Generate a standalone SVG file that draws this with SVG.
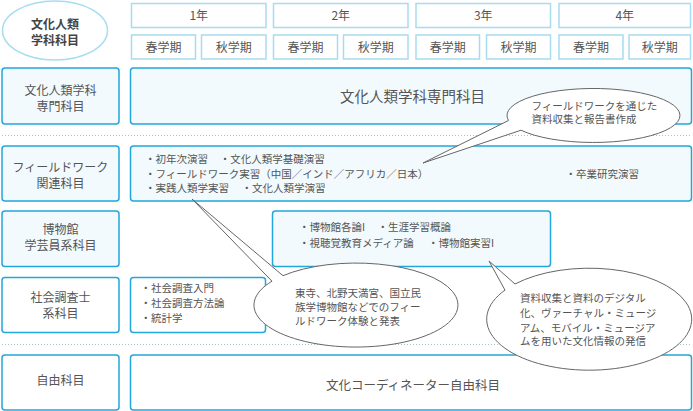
<svg xmlns="http://www.w3.org/2000/svg" width="693" height="411" viewBox="0 0 693 411">
<style>
text{font-family:"Noto Sans CJK JP","Noto Sans CJK SC",sans-serif;fill:#555}
.hd{fill:#fff;stroke:#a6dcf0;stroke-width:1.5}
.bx{fill:#f2fafd;stroke:#22a6db;stroke-width:1.5}
.wb{fill:#fff;stroke:#22a6db;stroke-width:1.5}
.ht{font-size:12px;text-anchor:middle}
.lb{font-size:12px;text-anchor:middle}
.li{font-size:10.5px}
.co{fill:#fff;stroke:#666;stroke-width:1}
.dot{stroke:#a9c3cb;stroke-width:1;stroke-dasharray:1 2}
</style>
<rect width="693" height="411" fill="#fff"/>
<g id="corner">
<ellipse cx="55" cy="30.5" rx="52.5" ry="29.5" fill="#fff" stroke="#a6dcf0" stroke-width="1.5"/>
<text class="lb" x="55" y="29" style="font-weight:bold;fill:#444">文化人類<tspan x="55" dy="16">学科科目</tspan></text>
</g>
<g id="header">
<rect class="hd" x="131.5" y="3.5" width="134.5" height="24"/>
<rect class="hd" x="273.5" y="3.5" width="134.5" height="24"/>
<rect class="hd" x="416" y="3.5" width="134.5" height="24"/>
<rect class="hd" x="559" y="3.5" width="131.5" height="24"/>
<text class="ht" x="198.8" y="20">1年</text>
<text class="ht" x="340.8" y="20">2年</text>
<text class="ht" x="483.3" y="20">3年</text>
<text class="ht" x="624.8" y="20">4年</text>
<rect class="hd" x="131.5" y="35" width="64" height="24"/>
<rect class="hd" x="201.5" y="35" width="64.5" height="24"/>
<rect class="hd" x="273.5" y="35" width="64" height="24"/>
<rect class="hd" x="343.5" y="35" width="64.5" height="24"/>
<rect class="hd" x="416" y="35" width="63.5" height="24"/>
<rect class="hd" x="486.5" y="35" width="64" height="24"/>
<rect class="hd" x="559" y="35" width="64" height="24"/>
<rect class="hd" x="629" y="35" width="61.5" height="24"/>
<text class="ht" x="163.5" y="51.5">春学期</text>
<text class="ht" x="233.8" y="51.5">秋学期</text>
<text class="ht" x="305.5" y="51.5">春学期</text>
<text class="ht" x="375.8" y="51.5">秋学期</text>
<text class="ht" x="447.8" y="51.5">春学期</text>
<text class="ht" x="518.5" y="51.5">秋学期</text>
<text class="ht" x="591" y="51.5">春学期</text>
<text class="ht" x="659.8" y="51.5">秋学期</text>
</g>
<g id="separators">
<line class="dot" x1="2" y1="135.5" x2="691" y2="135.5"/>
<line class="dot" x1="2" y1="344.5" x2="691" y2="344.5"/>
</g>
<g id="row-senmon">
<rect class="bx" x="2" y="68" width="117" height="56" rx="3"/>
<text class="lb" x="60.5" y="94.5">文化人類学科<tspan x="60.5" dy="16">専門科目</tspan></text>
<rect class="bx" x="130.5" y="68" width="561" height="56" rx="3"/>
<text x="412.5" y="101.5" style="font-size:14.5px;text-anchor:middle">文化人類学科専門科目</text>
</g>
<g id="row-fieldwork">
<rect class="bx" x="2" y="146" width="117" height="55" rx="3"/>
<text class="lb" x="60.5" y="172">フィールドワーク<tspan x="60.5" dy="16">関連科目</tspan></text>
<rect class="bx" x="130.5" y="146" width="561" height="55" rx="3"/>
<text class="li" x="145" y="163">・初年次演習</text>
<text class="li" x="219.7" y="163">・文化人類学基礎演習</text>
<text class="li" x="145" y="177.5">・フィールドワーク実習（中国／インド／アフリカ／日本）</text>
<text class="li" x="145" y="191.5">・実践人類学実習</text>
<text class="li" x="241.5" y="191.5">・文化人類学演習</text>
<text class="li" x="565.5" y="177.5">・卒業研究演習</text>
</g>
<g id="row-museum">
<rect class="bx" x="2" y="211" width="117" height="55.5" rx="3"/>
<text class="lb" x="60.5" y="234">博物館<tspan x="60.5" dy="16">学芸員系科目</tspan></text>
<rect class="bx" x="272.5" y="211" width="278" height="55.5" rx="3"/>
<text class="li" x="299" y="231">・博物館各論I</text>
<text class="li" x="377.5" y="231">・生涯学習概論</text>
<text class="li" x="299" y="246.5">・視聴覚教育メディア論</text>
<text class="li" x="428" y="246.5">・博物館実習I</text>
</g>
<g id="row-social">
<rect class="wb" x="2" y="277.5" width="117" height="55" rx="3"/>
<text class="lb" x="60.5" y="302">社会調査士<tspan x="60.5" dy="16">系科目</tspan></text>
<rect class="wb" x="130.5" y="277.5" width="135" height="55" rx="3"/>
<text class="li" x="140.5" y="292">・社会調査入門<tspan x="140.5" dy="15">・社会調査方法論</tspan><tspan x="140.5" dy="14.5">・統計学</tspan></text>
</g>
<g id="row-free">
<rect class="wb" x="2" y="355" width="117" height="55" rx="3"/>
<text class="lb" x="60.5" y="384.5">自由科目</text>
<rect class="wb" x="130.5" y="355" width="561" height="55" rx="3"/>
<text x="413" y="390" style="font-size:12.5px;text-anchor:middle">文化コーディネーター自由科目</text>
</g>
<g id="connectors">
<path class="co" d="M521,130.2 L423,163 L508.5,120.5 A86.5 27 0 1 1 521,130.2 Z"/>
<path class="co" d="M283,275.7 L192,199 L272,281.2 A102 42 0 1 0 283,275.7 Z"/>
<path class="co" d="M515,284 L489,261 L505,290.1 A102.5 51 0 1 0 515,284 Z"/>
</g>
<g id="callout-texts">
<text class="li" x="531.5" y="109.5">フィールドワークを通じた<tspan x="531.5" dy="13.5">資料収集と報告書作成</tspan></text>
<text class="li" x="295" y="296.5">東寺、北野天満宮、国立民<tspan x="295" dy="14.5">族学博物館などでのフィー</tspan><tspan x="295" dy="14">ルドワーク体験と発表</tspan></text>
<text class="li" x="520" y="301.5">資料収集と資料のデジタル<tspan x="520" dy="15">化、ヴァーチャル・ミュージ</tspan><tspan x="520" dy="15">アム、モバイル・ミュージア</tspan><tspan x="520" dy="13.5">ムを用いた文化情報の発信</tspan></text>
</g>
</svg>
